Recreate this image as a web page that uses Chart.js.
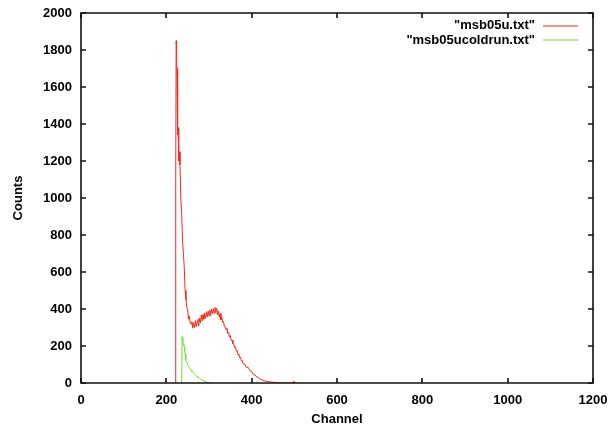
<!DOCTYPE html>
<html>
<head>
<meta charset="utf-8">
<script src="https://cdn.jsdelivr.net/npm/chart.js@4.4.1/dist/chart.umd.min.js"></script>
<style>
html,body{margin:0;padding:0;background:#fff;}
#wrap{width:609px;height:429px;position:relative;}
</style>
</head>
<body>
<div id="wrap"><canvas id="c" width="609" height="429"></canvas></div>
<script>
// ---- data ----
const xTicks = [0, 200, 400, 600, 800, 1000, 1200];
const yTicks = [0, 200, 400, 600, 800, 1000, 1200, 1400, 1600, 1800, 2000];

const seriesNames = ['"msb05u.txt"', '"msb05ucoldrun.txt"'];

const redChannels = [221, 222, 223, 224, 225, 226, 227, 228, 229, 230, 232, 234, 236, 238, 240, 242, 244, 246, 248,
  250, 252, 254, 256, 258, 260, 262, 264, 266, 268, 270, 272, 274, 276, 278, 280, 282, 284, 286, 288,
  290, 292, 294, 296, 298, 300, 302, 304, 306, 308, 310, 312, 314, 316, 318, 320, 322, 324, 326, 328,
  330, 332, 334, 336, 338, 340, 342, 344, 346, 348, 350, 352, 354, 356, 358, 360, 362, 364, 366, 368,
  370, 372, 374, 376, 378, 380, 384, 388, 392, 396, 400, 404, 408, 412, 416, 420, 425, 430, 435, 440,
  445, 450, 460, 470, 480, 497, 499, 501];
const redCounts = [0, 1100, 1850, 1820, 1620, 1700, 1340, 1380, 1200, 1250, 1180, 1000, 910, 770, 700, 625, 500, 450, 410,
  395, 345, 362, 322, 318, 332, 296, 325, 300, 338, 305, 330, 345, 308, 352, 325, 368, 335, 370, 345,
  378, 350, 385, 358, 388, 362, 395, 366, 398, 376, 402, 378, 408, 380, 404, 368, 390, 356, 376, 340,
  358, 328, 332, 306, 305, 288, 296, 268, 274, 248, 256, 230, 232, 212, 212, 192, 196, 172, 176, 152,
  156, 136, 140, 120, 122, 104, 102, 84, 84, 66, 62, 44, 44, 32, 30, 20, 16, 12, 9, 7,
  5, 4, 2, 1, 0, 0, 10, 0];

const greenChannels = [236, 237, 238, 239, 240, 241, 242, 243, 244, 245, 246, 248, 250, 252, 254, 256, 258, 260, 262,
  264, 266, 268, 270, 272, 274, 276, 278, 280, 283, 286, 289, 292, 295, 298, 301, 305];
const greenCounts = [0, 250, 232, 226, 212, 206, 192, 176, 158, 142, 125, 112, 100, 93, 82, 76, 68, 63, 56,
  52, 47, 43, 38, 35, 30, 28, 24, 22, 17, 14, 11, 8, 5, 3, 1, 0];

const lineColors = ['#f22a1a', '#6ade24'];

function toPoints(xs, ys) { return xs.map((x, i) => ({x: x, y: ys[i]})); }

const FONT = 'Liberation Sans, Arial, Helvetica, sans-serif';

const frameTicks = {
  id: 'frameTicks',
  afterDatasetsDraw(chart) {
    const ctx = chart.ctx;
    const a = chart.chartArea;
    const xs = chart.scales.x, ys = chart.scales.y;
    ctx.save();
    ctx.strokeStyle = '#111';
    ctx.lineWidth = 1.6;
    const L = Math.round(a.left), R = Math.round(a.right);
    const T = Math.round(a.top), B = Math.round(a.bottom);
    ctx.beginPath();
    ctx.rect(L, T, R - L, B - T);
    ctx.stroke();
    const tl = 5;
    ctx.beginPath();
    xTicks.forEach(v => {
      const px = Math.round(xs.getPixelForValue(v));
      ctx.moveTo(px, B); ctx.lineTo(px, B - tl);
      ctx.moveTo(px, T); ctx.lineTo(px, T + tl);
    });
    yTicks.forEach(v => {
      const py = Math.round(ys.getPixelForValue(v));
      ctx.moveTo(L, py); ctx.lineTo(L + tl, py);
      ctx.moveTo(R, py); ctx.lineTo(R - tl, py);
    });
    ctx.stroke();

    // legend (gnuplot style: right-aligned text, sample line to the right)
    ctx.font = 'bold 13px ' + FONT;
    ctx.textAlign = 'right';
    ctx.textBaseline = 'middle';
    const rows = [25.5, 40];
    chart.data.datasets.forEach((ds, i) => {
      ctx.fillStyle = '#000';
      ctx.fillText(ds.label, 535, rows[i]);
      ctx.strokeStyle = ds.borderColor;
      ctx.lineWidth = 1.2;
      ctx.beginPath();
      ctx.moveTo(543, Math.round(rows[i]));
      ctx.lineTo(578, Math.round(rows[i]));
      ctx.stroke();
    });
    ctx.restore();
  }
};

new Chart(document.getElementById('c'), {
  type: 'scatter',
  data: {
    datasets: [
      { label: seriesNames[0], data: toPoints(redChannels, redCounts), showLine: true,
        borderColor: lineColors[0], borderWidth: 1, pointRadius: 0, tension: 0 },
      { label: seriesNames[1], data: toPoints(greenChannels, greenCounts), showLine: true,
        borderColor: lineColors[1], borderWidth: 1, pointRadius: 0, tension: 0 }
    ]
  },
  options: {
    responsive: false,
    animation: false,
    events: [],
    layout: { padding: { top: 13, right: 16, left: 0, bottom: 0 } },
    plugins: { legend: { display: false }, tooltip: { enabled: false } },
    scales: {
      x: {
        type: 'linear', min: 0, max: 1200,
        afterBuildTicks(s) { s.ticks = xTicks.map(v => ({value: v})); },
        afterFit(s) { s.height = 46; s.paddingLeft = 0; s.paddingRight = 16; },
        grid: { display: false, drawTicks: false },
        border: { display: false },
        ticks: { color: '#000', padding: 10, maxRotation: 0, callback: v => String(v),
          font: { family: FONT, size: 13, weight: 'bold' } },
        title: { display: true, text: 'Channel', color: '#000', padding: { top: 0, bottom: 2 },
          font: { family: FONT, size: 13, weight: 'bold' } }
      },
      y: {
        type: 'linear', min: 0, max: 2000,
        afterBuildTicks(s) { s.ticks = yTicks.map(v => ({value: v})); },
        afterFit(s) { s.width = 81; s.paddingTop = 13; s.paddingBottom = 0; },
        grid: { display: false, drawTicks: false },
        border: { display: false },
        ticks: { color: '#000', padding: 9, callback: v => String(v),
          font: { family: FONT, size: 13, weight: 'bold' } },
        title: { display: true, text: 'Counts', color: '#000', padding: { top: 11, bottom: 0 },
          font: { family: FONT, size: 13, weight: 'bold' } }
      }
    }
  },
  plugins: [frameTicks]
});
</script>
</body>
</html>
